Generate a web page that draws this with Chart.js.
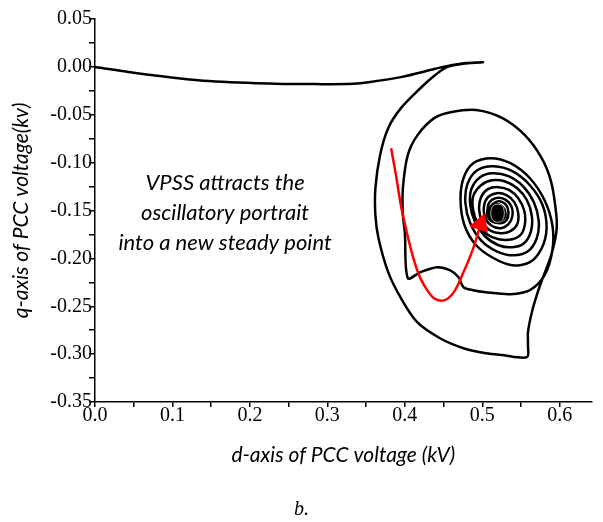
<!DOCTYPE html>
<html>
<head>
<meta charset="utf-8">
<script src="https://cdn.jsdelivr.net/npm/chart.js@4/dist/chart.umd.min.js"></script>
<style>
    html, body { margin: 0; padding: 0; background: #fff; }
    #wrap { width: 603px; height: 522px; position: relative; }
</style>
</head>
<body>
<div id="wrap"><canvas id="portrait"></canvas></div>
<script>
// PCC voltage trajectory in the d-q plane (kV)
const pathD = [
    0.000, 0.057, 0.133, 0.208, 0.284, 0.334, 0.353, 0.395, 0.438, 0.454, 0.479, 0.501,
    0.478, 0.455, 0.440,
    0.420, 0.395, 0.3785, 0.368, 0.362, 0.362, 0.366, 0.3785, 0.395, 0.416, 0.4454, 0.4757,
    0.5047, 0.526, 0.5577, 0.559, 0.559, 0.564, 0.5716, 0.578, 0.589, 0.5956, 0.5956, 0.589,
    0.5767, 0.555, 0.526, 0.492, 0.4606, 0.4379, 0.4164, 0.4038, 0.3975, 0.3975, 0.400, 0.4038,
    0.4202, 0.4416, 0.458, 0.4694, 0.4757, 0.4883, 0.5047,
    0.5363, 0.5615, 0.5804, 0.5905, 0.5905, 0.5804, 0.5615, 0.5363, 0.511, 0.4883, 0.4757, 0.4719, 0.4770, 0.4921, 0.5148, 0.5388,
    0.5615, 0.5767, 0.583, 0.5779, 0.5615, 0.5388, 0.5148, 0.4934, 0.4807, 0.4782, 0.4845, 0.4984, 0.5186, 0.5401,
    0.5590, 0.5703, 0.5729, 0.5666, 0.5527, 0.5338, 0.5136, 0.4972, 0.4858, 0.4845, 0.4908, 0.5035, 0.5211, 0.5388,
    0.5539, 0.5628, 0.5640, 0.5577, 0.5451, 0.5287, 0.5123, 0.4984, 0.4883, 0.4883, 0.4946, 0.5060, 0.5211, 0.5388,
    0.5502, 0.5552, 0.5540, 0.5464, 0.5350, 0.5211, 0.5073, 0.4984, 0.4959, 0.4997, 0.5098, 0.5237, 0.5363,
    0.5451, 0.5464, 0.5413, 0.5312, 0.5186, 0.5073, 0.5022, 0.5035, 0.5110, 0.5237, 0.5338,
    0.5388, 0.5375, 0.5287, 0.5174, 0.5085, 0.5073, 0.5123, 0.5224, 0.5312,
    0.5338, 0.5300, 0.5211, 0.5123, 0.5110, 0.5161, 0.5249, 0.5300, 0.5275
];
const pathQ = [
    0.000, -0.007, -0.014, -0.017, -0.018, -0.0175, -0.016, -0.0107, -0.0023, 0.0008, 0.004, 0.0048,
    0.0035, 0.0000, -0.008,
    -0.0223, -0.0431, -0.064, -0.0922, -0.1267, -0.1549, -0.179, -0.2144, -0.2416, -0.2667, -0.2834, -0.2938,
    -0.2991, -0.301, -0.3032, -0.2907, -0.277, -0.2562, -0.2353, -0.2207, -0.1966, -0.1726, -0.1549, -0.1204,
    -0.0953, -0.0713, -0.0535, -0.0451, -0.0472, -0.0535, -0.0713, -0.0922, -0.1267, -0.1549, -0.1727, -0.2207,
    -0.2144, -0.2092, -0.2123, -0.2197, -0.2301, -0.2333, -0.2354,
    -0.2374, -0.2332, -0.2176, -0.1915, -0.1654, -0.1393, -0.1163, -0.1006, -0.0954, -0.1006, -0.1163, -0.1393, -0.1654, -0.1863, -0.1999, -0.2072,
    -0.2040, -0.1894, -0.1685, -0.1445, -0.1236, -0.1089, -0.1037, -0.1079, -0.1226, -0.1424, -0.1633, -0.1811, -0.1926, -0.1968,
    -0.1926, -0.1790, -0.1612, -0.1414, -0.1247, -0.1142, -0.1111, -0.1152, -0.1278, -0.1445, -0.1623, -0.1769, -0.1863, -0.1884,
    -0.1842, -0.1717, -0.1560, -0.1393, -0.1268, -0.1195, -0.1184, -0.1236, -0.1351, -0.1497, -0.1644, -0.1748, -0.1800, -0.1800,
    -0.1748, -0.1632, -0.1497, -0.1372, -0.1288, -0.1256, -0.1277, -0.1361, -0.1486, -0.1611, -0.1706, -0.1737, -0.1716,
    -0.1643, -0.1528, -0.1413, -0.1340, -0.1319, -0.1361, -0.1455, -0.1570, -0.1653, -0.1685, -0.1643,
    -0.1559, -0.1455, -0.1382, -0.1371, -0.1424, -0.1518, -0.1601, -0.1633, -0.1601,
    -0.1518, -0.1434, -0.1403, -0.1445, -0.1528, -0.1591, -0.1601, -0.1559, -0.1500
];

// new steady point the trajectory settles on, with the thin gap between its last turns
const steadyD = [0.518];
const steadyQ = [-0.153];
const gapD = [0.5287, 0.5262, 0.5199, 0.5136, 0.5110, 0.5136, 0.5199, 0.5262, 0.5287];
const gapQ = [-0.1528, -0.1455, -0.1434, -0.1455, -0.1528, -0.1601, -0.1622, -0.1601, -0.1528];

// red arrow showing the attraction path
const arrowD = [0.3823, 0.3886, 0.3949, 0.4013, 0.4076, 0.4139, 0.4202, 0.4290, 0.4379, 0.4505, 0.4631, 0.4757, 0.4883, 0.4978];
const arrowQ = [-0.0849, -0.1132, -0.1446, -0.1686, -0.1895, -0.2073, -0.2209, -0.2334, -0.2418, -0.2439, -0.2355, -0.2146, -0.1895, -0.1643];

const noteLines = ['VPSS attracts the', 'oscillatory portrait', 'into a new steady point'];
const noteX = 0.168;
const noteQ = [-0.1287, -0.1601, -0.1914];

const toPoints = (xs, ys) => xs.map((x, i) => ({ x: x, y: ys[i] }));

const isMajor = (v, per) => Math.abs(v * per - Math.round(v * per)) < 1e-6;
const fmt = (v, digits) => {
    const r = Math.round(v * 100) / 100;
    return (r === 0 ? 0 : r).toFixed(digits);
};

const tickFont = { family: 'Liberation Serif', size: 20, lineHeight: 1 };
const titleFont = { family: 'Lato', size: 21, style: 'italic' };

const notePlugin = {
    id: 'note',
    afterDatasetsDraw(chart) {
        const ctx = chart.ctx;
        const xs = chart.scales.x, ys = chart.scales.y;
        ctx.save();
        ctx.font = 'italic 22px Lato';
        ctx.fillStyle = '#000';
        ctx.textAlign = 'center';
        ctx.textBaseline = 'alphabetic';
        noteLines.forEach((line, i) => {
            ctx.fillText(line, xs.getPixelForValue(noteX), ys.getPixelForValue(noteQ[i]));
        });
        ctx.restore();
    }
};

new Chart(document.getElementById('portrait'), {
    type: 'scatter',
    data: {
        datasets: [{
            label: 'trajectory',
            data: toPoints(pathD, pathQ),
            showLine: true,
            borderColor: '#000',
            borderWidth: 2.5,
            pointRadius: 0,
            tension: 0.3,
            order: 4
        }, {
            label: 'steady point',
            data: toPoints(steadyD, steadyQ),
            pointRadius: 10,
            pointBackgroundColor: '#000',
            pointBorderColor: '#000',
            order: 3
        }, {
            label: 'gap',
            data: toPoints(gapD, gapQ),
            showLine: true,
            borderColor: 'rgba(255,255,255,0.85)',
            borderWidth: 0.8,
            pointRadius: 0,
            tension: 0.4,
            order: 2
        }, {
            label: 'attraction',
            data: toPoints(arrowD, arrowQ),
            showLine: true,
            borderColor: '#ff0000',
            borderWidth: 2.5,
            tension: 0.3,
            pointStyle: 'triangle',
            pointRotation: 20,
            pointRadius: ctx => ctx.dataIndex === arrowD.length - 1 ? 9 : 0,
            pointBackgroundColor: '#ff0000',
            pointBorderColor: '#ff0000',
            order: 1
        }]
    },
    options: {
        responsive: true,
        maintainAspectRatio: false,
        animation: false,
        layout: { padding: { left: 0, right: 0, top: 19, bottom: 0 } },
        plugins: {
            legend: { display: false },
            tooltip: { enabled: false },
            title: {
                display: true,
                text: 'b.',
                position: 'bottom',
                color: '#000',
                font: { family: 'Liberation Serif', size: 20, style: 'italic', weight: 'normal' },
                padding: { top: 0, bottom: 0 }
            }
        },
        scales: {
            x: {
                type: 'linear',
                min: 0,
                max: 0.641,
                afterFit: s => { s.height = 96; },
                ticks: {
                    stepSize: 0.05,
                    includeBounds: false,
                    autoSkip: false,
                    maxRotation: 0,
                    color: '#000',
                    font: tickFont,
                    padding: -1,
                    callback: v => isMajor(v, 10) ? fmt(v, 1) : ''
                },
                grid: { drawOnChartArea: false, drawTicks: true, tickLength: 5, color: '#000', lineWidth: 1.5 },
                border: { display: true, color: '#000', width: 1.5 },
                title: {
                    display: true,
                    text: 'd-axis of PCC voltage (kV)',
                    color: '#000',
                    font: titleFont,
                    padding: { top: 0, bottom: 30 }
                }
            },
            y: {
                type: 'linear',
                min: -0.35,
                max: 0.05,
                afterFit: s => { s.width = 95; },
                ticks: {
                    stepSize: 0.025,
                    includeBounds: false,
                    autoSkip: false,
                    color: '#000',
                    font: tickFont,
                    padding: -3,
                    callback: v => isMajor(v, 20) ? fmt(v, 2) : ''
                },
                grid: { drawOnChartArea: false, drawTicks: true, tickLength: 6, color: '#000', lineWidth: 1.5 },
                border: { display: true, color: '#000', width: 1.5 },
                title: {
                    display: true,
                    text: 'q-axis of PCC voltage(kv)',
                    color: '#000',
                    font: titleFont,
                    padding: { top: 9, bottom: 0 }
                }
            }
        }
    },
    plugins: [notePlugin]
});
</script>
</body>
</html>
